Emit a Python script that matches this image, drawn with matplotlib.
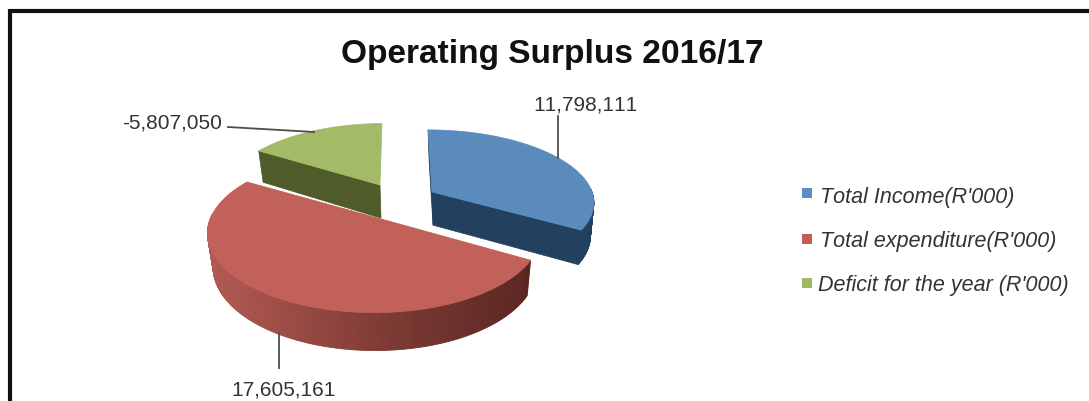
import numpy as np
import matplotlib
matplotlib.use("Agg")
import matplotlib.pyplot as plt
from matplotlib.patches import Polygon, Rectangle

plt.rcParams['font.family'] = ['Liberation Sans', 'DejaVu Sans']
plt.rcParams['text.kerning_factor'] = 6

# Chart data
title = "Operating Surplus 2016/17"
categories = ["Total Income(R'000)", "Total expenditure(R'000)", "Deficit for the year (R'000)"]
values = [11798111, 17605161, -5807050]

legend_colors = ["#5a8fc6", "#c65a55", "#9dbb5e"]
top_colors = ["#5b8abd", "#c2605a", "#a3bb67"]
side_colors = ["#24405f", "#6a2d28", "#4f5b28"]

W, H = 1089, 401
fig = plt.figure(figsize=(W / 100, H / 100), dpi=100, facecolor="white")
ax = fig.add_axes([0, 0, 1, 1])
ax.set_xlim(0, W)
ax.set_ylim(H, 0)
ax.axis("off")

# Slice geometry: hub position, plan radius, vertical scale, lean and perspective of each exploded slice
hubs = [(432, 192), (374, 217), (380, 185)]
radii = [160, 163, 157]
tilts = [70, 76, 74]
leans = [-4, 0, 2]
perspectives = [0.127, 0.205, 0.205]
BOTTOM_SHRINK = 0.972


def project(i, theta):
    """Map angles (clockwise from north, radians) to screen points on the top face."""
    x, y = np.sin(theta), np.cos(theta)
    s = 1 / (1 + perspectives[i] * y)
    return (hubs[i][0] + radii[i] * x * s + leans[i] * y,
            hubs[i][1] - tilts[i] * y * s,
            s)


def depth(s):
    return 30 + (s - 0.83) * 18.6


def lower(i, px, py, s):
    """Matching point on the lower rim of the slice."""
    return hubs[i][0] + (px - hubs[i][0]) * BOTTOM_SHRINK + 1, py + depth(s)


def mix(c0, c1, t):
    a, b = np.array(matplotlib.colors.to_rgb(c0)), np.array(matplotlib.colors.to_rgb(c1))
    return a + (b - a) * t


sizes = np.abs(values, dtype=float)
edges = np.concatenate([[0], np.cumsum(sizes) / sizes.sum() * 2 * np.pi])


def draw_slice(i, z, walls):
    t0, t1 = edges[i], edges[i + 1]
    theta = np.linspace(t0, t1, 200)
    px, py, s = project(i, theta)
    hx, hy = hubs[i]
    d_hub = depth(1.0)

    # Flat walls along the straight edges that face the viewer
    for k in walls:
        bx, by = lower(i, px[k], py[k], s[k])
        wall = [(hx, hy), (px[k], py[k]), (bx, by), (hx + 1, hy + d_hub)]
        ax.add_patch(Polygon(wall, closed=True, fc=side_colors[i], ec=side_colors[i], lw=0.5, zorder=z))

    # Curved outer wall, shaded segment by segment
    bx, by = lower(i, px, py, s)
    xmin, xmax = bx.min(), bx.max()
    for j in range(len(theta) - 1):
        if np.cos((theta[j] + theta[j + 1]) / 2) > 0.05:
            continue
        if i == 1:
            t = (bx[j] - xmin) / (xmax - xmin)
            col = mix("#b25a53", "#7e3a34", t / 0.55) if t < 0.55 else mix("#7e3a34", "#5a2622", (t - 0.55) / 0.45)
        else:
            col = side_colors[i]
        quad = [(px[j], py[j]), (px[j + 1], py[j + 1]), (bx[j + 1], by[j + 1]), (bx[j], by[j])]
        ax.add_patch(Polygon(quad, closed=True, fc=col, ec=col, lw=0.6, zorder=z))

    # Top face
    pts = np.column_stack([np.r_[hx, px], np.r_[hy, py]])
    ax.add_patch(Polygon(pts, closed=True, fc=top_colors[i], ec=top_colors[i], lw=0.5, zorder=z + 0.5))


# Back to front: deficit, income, expenditure
draw_slice(2, 2, walls=[0])
draw_slice(0, 3, walls=[0, -1])
draw_slice(1, 4, walls=[])

# Leader lines
LINE = "#4d4d4d"
ax.plot([228, 314], [127, 132], color=LINE, lw=1.3, zorder=5)
ax.plot([558, 558], [116, 158], color=LINE, lw=1.3, zorder=5)
ax.plot([279, 279], [333, 368], color=LINE, lw=1.3, zorder=5)

# Data labels
TEXT = "#333333"
LABEL_SIZE = 15.0
ax.text(585, 105, f"{values[0]:,}", ha="center", va="center", fontsize=LABEL_SIZE, color=TEXT)
ax.text(284, 390, f"{values[1]:,}", ha="center", va="center", fontsize=LABEL_SIZE, color=TEXT)
ax.text(172.5, 123, f"{values[2]:,}", ha="center", va="center", fontsize=LABEL_SIZE, color=TEXT)

# Title
ax.text(552, 55, title, ha="center", va="center", fontsize=24.1, fontweight="bold", color="#111111")

# Legend
legend_y = [198, 242, 286]
legend_x = [820, 820, 818]
square_y = [193, 239, 283]
for name, col, ty, tx, sy in zip(categories, legend_colors, legend_y, legend_x, square_y):
    ax.add_patch(Rectangle((802, sy - 5), 10, 10, fc=col, ec="none", zorder=5))
    ax.text(tx, ty, name, ha="left", va="center", fontsize=15.5, style="italic", color=TEXT)

# Outer frame: only the top and left edges fall inside the canvas
ax.plot([9.5, W], [10.5, 10.5], color="#111111", lw=3, solid_capstyle="butt", zorder=6)
ax.plot([9.5, 9.5], [9, H], color="#111111", lw=3, solid_capstyle="butt", zorder=6)

fig.savefig("out.png", dpi=100, facecolor="white")
